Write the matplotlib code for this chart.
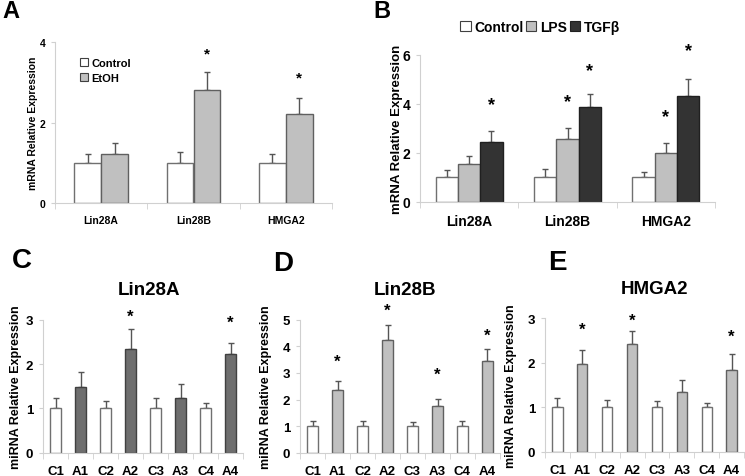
import numpy as np
import matplotlib
matplotlib.use("Agg")
import matplotlib.pyplot as plt

plt.rcParams['font.family'] = ['Liberation Sans', 'DejaVu Sans']
plt.rcParams['font.weight'] = 'bold'
plt.rcParams['axes.labelweight'] = 'bold'

# panel A - EtOH
genes = ['Lin28A', 'Lin28B', 'HMGA2']
a_ctrl = [1.0, 1.0, 1.0]
a_ctrl_err = [0.22, 0.26, 0.22]
a_etoh = [1.21, 2.81, 2.21]
a_etoh_err = [0.29, 0.45, 0.39]
a_star = [None, 3.83, 3.24]

# panel B - LPS / TGFb
b_ctrl = [1.0, 1.0, 1.0]
b_ctrl_err = [0.30, 0.33, 0.20]
b_lps = [1.55, 2.54, 2.0]
b_lps_err = [0.33, 0.47, 0.38]
b_tgf = [2.42, 3.85, 4.30]
b_tgf_err = [0.47, 0.54, 0.69]
b_lps_star = [None, 4.30, 3.69]
b_tgf_star = [4.19, 5.59, 6.38]

# panels C-E - miRNA
samples = ['C1', 'A1', 'C2', 'A2', 'C3', 'A3', 'C4', 'A4']
c_vals = [1.0, 1.48, 1.0, 2.35, 1.0, 1.23, 1.0, 2.23]
c_err = [0.23, 0.33, 0.16, 0.45, 0.23, 0.31, 0.13, 0.24]
c_star = [None, None, None, 3.20, None, None, None, 3.05]
d_vals = [1.0, 2.36, 1.0, 4.25, 1.0, 1.77, 1.0, 3.46]
d_err = [0.20, 0.35, 0.19, 0.54, 0.16, 0.25, 0.20, 0.42]
d_star = [None, 3.61, None, 5.53, None, 3.12, None, 4.61]
e_vals = [1.0, 1.97, 1.0, 2.42, 1.0, 1.35, 1.0, 1.84]
e_err = [0.21, 0.31, 0.16, 0.30, 0.14, 0.26, 0.11, 0.35]
e_star = [None, 2.87, None, 3.07, None, None, None, 2.70]

axis_col = '#d0d0d0'
err_col = '#555555'


def style_axes(ax, ncat, yticks, fs):
    for s in ['top', 'right']:
        ax.spines[s].set_visible(False)
    for s in ['left', 'bottom']:
        ax.spines[s].set_color(axis_col)
        ax.spines[s].set_linewidth(0.8)
    ax.set_xlim(-0.5, ncat - 0.5)
    ax.set_ylim(0, yticks[-1])
    ax.set_yticks(yticks)
    ax.set_xticks(np.arange(ncat))
    ax.set_xticks(np.arange(ncat + 1) - 0.5, minor=True)
    ax.tick_params(axis='x', which='major', length=0, labelsize=fs, pad=9)
    ax.tick_params(axis='x', which='minor', length=4, color=axis_col, direction='out')
    ax.tick_params(axis='y', length=3, color=axis_col, labelsize=fs, pad=4)


def bars(ax, x, vals, err, color, edge, width, capsize):
    ax.bar(x, vals, width, color=color, edgecolor=edge, linewidth=1.0, zorder=2)
    ax.errorbar(x, vals, yerr=[np.zeros(len(vals)), err], fmt='none',
                ecolor=err_col, elinewidth=1.0, capsize=capsize, capthick=1.0, zorder=1)


def stars(ax, x, ys, fs):
    for xi, y in zip(x, ys):
        if y is not None:
            ax.annotate('*', (xi, y), xytext=(0, -fs * 0.3), textcoords='offset points',
                        ha='center', va='center', fontsize=fs, annotation_clip=False)


fig = plt.figure(figsize=(7.45, 4.77), dpi=100)
W, H = 745.0, 477.0


def add_ax(x0, y_top, x1, y_bot):
    return fig.add_axes([x0 / W, 1 - y_bot / H, (x1 - x0) / W, (y_bot - y_top) / H])


# ---- A
axA = add_ax(55, 43, 332, 204)
x = np.arange(3)
w = 0.29
bars(axA, x - w / 2, a_ctrl, a_ctrl_err, 'white', '#707070', w, 2.5)
bars(axA, x + w / 2, a_etoh, a_etoh_err, '#c0c0c0', '#606060', w, 2.5)
stars(axA, x + w / 2, a_star, 11)
style_axes(axA, 3, [0, 2, 4], 7.5)
axA.set_xticklabels(genes)
axA.set_ylabel('mRNA Relative Expression', fontsize=7.5)
axA.yaxis.set_label_coords(-0.061, 0.5)
hA = [plt.Rectangle((0, 0), 1, 1, fc='white', ec='#404040', lw=0.8),
      plt.Rectangle((0, 0), 1, 1, fc='#c0c0c0', ec='#404040', lw=0.8)]
axA.legend(hA, ['Control', 'EtOH'], loc='upper left', bbox_to_anchor=(0.09, 0.90),
           frameon=False, fontsize=8, handlelength=0.7, handleheight=0.7,
           handletextpad=0.3, labelspacing=0.4, borderpad=0, borderaxespad=0)

# ---- B
axB = add_ax(420, 55.7, 715, 202.7)
w = 0.227
bars(axB, x - w, b_ctrl, b_ctrl_err, 'white', '#707070', w, 2.5)
bars(axB, x, b_lps, b_lps_err, '#c0c0c0', '#606060', w, 2.5)
bars(axB, x + w, b_tgf, b_tgf_err, '#333333', '#202020', w, 2.5)
stars(axB, x, b_lps_star, 13)
stars(axB, x + w, b_tgf_star, 13)
style_axes(axB, 3, [0, 2, 4, 6], 10)
axB.set_xticklabels(genes)
axB.set_ylabel('mRNA Relative Expression', fontsize=9.5)
axB.yaxis.set_label_coords(-0.059, 0.5)
hB = [plt.Rectangle((0, 0), 1, 1, fc='white', ec='#404040', lw=0.8),
      plt.Rectangle((0, 0), 1, 1, fc='#c0c0c0', ec='#404040', lw=0.8),
      plt.Rectangle((0, 0), 1, 1, fc='#333333', ec='#202020', lw=0.8)]
axB.legend(hB, ['Control', 'LPS', 'TGFβ'], loc='center left', bbox_to_anchor=(0.136, 1.188),
           ncol=3, frameon=False, fontsize=10, handlelength=0.75, handleheight=0.75,
           handletextpad=0.25, columnspacing=0.2, borderpad=0, borderaxespad=0)

# ---- C, D, E
xs = np.arange(8)
w = 0.41
panels = [
    (43, 320.7, 243, 453.7, c_vals, c_err, c_star, '#6e6e6e', '#404040', [0, 1, 2, 3], -0.105),
    (300, 320.7, 500, 453.7, d_vals, d_err, d_star, '#c0c0c0', '#606060', [0, 1, 2, 3, 4, 5], -0.14),
    (545, 319.3, 744, 453.0, e_vals, e_err, e_star, '#c0c0c0', '#606060', [0, 1, 2, 3], -0.14),
]
for x0, yt, x1, yb, vals, err, st, acol, aedge, yt_list, lx in panels:
    ax = add_ax(x0, yt, x1, yb)
    cols = ['white' if s.startswith('C') else acol for s in samples]
    edges = ['#707070' if s.startswith('C') else aedge for s in samples]
    ax.bar(xs, vals, w, color=cols, edgecolor=edges, linewidth=1.0, zorder=2)
    ax.errorbar(xs, vals, yerr=[np.zeros(8), err], fmt='none', ecolor=err_col,
                elinewidth=1.0, capsize=2.2, capthick=1.0, zorder=1)
    stars(ax, xs, st, 12)
    style_axes(ax, 8, yt_list, 9.5)
    ax.set_xticklabels(samples)
    ax.set_ylabel('miRNA Relative Expression', fontsize=9)
    ax.yaxis.set_label_coords(lx, 0.5)

fig.text(149 / W, 1 - 291 / H, 'Lin28A', ha='center', va='center', fontsize=13.5)
fig.text(405 / W, 1 - 291 / H, 'Lin28B', ha='center', va='center', fontsize=13.5)
fig.text(655 / W, 1 - 290 / H, 'HMGA2', ha='center', va='center', fontsize=13.5)

# panel letters
fig.text(2 / W, 1 - 11 / H, 'A', ha='left', va='center', fontsize=17)
fig.text(373 / W, 1 - 12 / H, 'B', ha='left', va='center', fontsize=17)
fig.text(12 / W, 1 - 261 / H, 'C', ha='left', va='center', fontsize=20)
fig.text(273 / W, 1 - 264 / H, 'D', ha='left', va='center', fontsize=20)
fig.text(548 / W, 1 - 263 / H, 'E', ha='left', va='center', fontsize=20)

fig.savefig('out.png', dpi=100)
